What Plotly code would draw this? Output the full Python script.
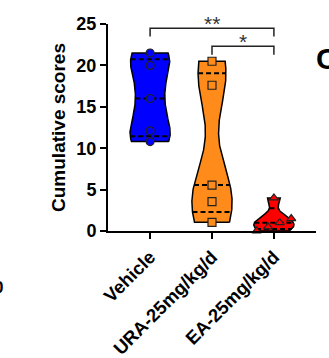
import numpy as np
import plotly.graph_objects as go

# ---------------- data ----------------
categories = ["Vehicle", "URA-25mg/kg/d", "EA-25mg/kg/d"]
vehicle = [21.5, 20.0, 16.0, 12.1, 10.8]
ura = [20.5, 17.6, 5.55, 3.55, 1.05]
ea = [0.0, 0.5, 1.0, 1.5, 4.0]
y_ticks = [0, 5, 10, 15, 20, 25]
comparisons = [(0, 2, "**"), (1, 2, "*")]

# ---------------- style ----------------
series = [vehicle, ura, ea]
fills = ["#0000FF", "#FF8C1A", "#FF0000"]
symbols = ["circle", "square", "triangle-up"]
bandwidths = [2.2, 4.0, 0.8]
VIOLIN_W = 0.65
FONT = "Arial, Liberation Sans, sans-serif"
bracket_tops = [24.5, 22.3]
bracket_drop = 1.0


def kde(vals, bw, y):
    v = np.asarray(vals, float)[:, None]
    z = (np.asarray(y, float)[None, :] - v) / bw
    return np.exp(-0.5 * z ** 2).sum(0) / (len(vals) * bw * np.sqrt(2 * np.pi))


def spread(vals, gap=0.6, half=0.28):
    vals = np.asarray(vals, float)
    order = np.argsort(vals, kind="stable")
    clusters, cur = [], [order[0]]
    for prev, idx in zip(order[:-1], order[1:]):
        if vals[idx] - vals[prev] < gap:
            cur.append(idx)
        else:
            clusters.append(cur)
            cur = [idx]
    clusters.append(cur)
    off = np.zeros(len(vals))
    for c in clusters:
        if len(c) > 1:
            off[c] = np.linspace(-half, half, len(c))
    return off


fig = go.Figure()

for i, (vals, col, sym, bw) in enumerate(zip(series, fills, symbols, bandwidths)):
    # violin body: kernel density over the data span (truncated at min/max)
    grid = np.linspace(min(vals), max(vals), 300)
    dens = kde(vals, bw, grid)
    dmax = dens.max()
    hw = VIOLIN_W / 2 * dens / dmax
    xs = np.concatenate([i + hw, (i - hw)[::-1], [i + hw[0]]])
    ys = np.concatenate([grid, grid[::-1], [grid[0]]])
    fig.add_trace(go.Scatter(
        x=xs, y=ys, mode="lines", fill="toself", fillcolor=col,
        line=dict(color="black", width=1.5),
        showlegend=False, hoverinfo="skip", cliponaxis=False,
    ))
    # quartile dashed lines
    qs = np.percentile(vals, [25, 50, 75], method="weibull")
    for q in qs:
        h = VIOLIN_W / 2 * kde(vals, bw, [q])[0] / dmax
        fig.add_trace(go.Scatter(
            x=[i - h, i + h], y=[q, q], mode="lines",
            line=dict(color="black", width=2, dash="5px,3px"),
            showlegend=False, hoverinfo="skip", cliponaxis=False,
        ))
    # points
    off = spread(vals)
    fig.add_trace(go.Scatter(
        x=i + off, y=vals, mode="markers",
        marker=dict(symbol=sym, size=8, color=col,
                    line=dict(color="#222222", width=1.2)),
        showlegend=False, hoverinfo="skip", cliponaxis=False,
    ))

# significance brackets
for (a, b, label), top in zip(comparisons, bracket_tops):
    fig.add_trace(go.Scatter(
        x=[a, a, b, b], y=[top - bracket_drop, top, top, top - bracket_drop],
        mode="lines", line=dict(color="#222222", width=1.5),
        showlegend=False, hoverinfo="skip", cliponaxis=False,
    ))
    fig.add_annotation(x=(a + b) / 2, y=top, text=label, showarrow=False,
                       yanchor="bottom", yshift=-9,
                       font=dict(family=FONT, size=21, color="#333333"))

# panel letter cut off at the right edge and neighbour fragment on the left
fig.add_annotation(xref="paper", yref="paper", x=0.99, y=0.831, text="C",
                   showarrow=False, xanchor="left", yanchor="middle",
                   font=dict(family=FONT, size=30, color="black", weight="bold"))
fig.add_annotation(xref="paper", yref="paper", x=-0.495, y=-0.275, text="0",
                   showarrow=False, xanchor="right", yanchor="middle",
                   font=dict(family=FONT, size=17, color="black", weight="bold"))

fig.update_layout(
    width=329, height=358,
    margin=dict(l=108, r=13, t=24, b=127, autoexpand=False),
    plot_bgcolor="white", paper_bgcolor="white",
    xaxis=dict(
        range=[-0.68, 2.68], tickmode="array", tickvals=[0, 1, 2],
        ticktext=categories, tickangle=-45, automargin=False,
        ticks="outside", ticklen=6, tickwidth=2, tickcolor="black",
        showline=True, linewidth=2, linecolor="black",
        showgrid=False, zeroline=False,
        tickfont=dict(family=FONT, size=18.5, color="black", weight="bold"),
    ),
    yaxis=dict(
        range=[0, 25], tickmode="array", tickvals=y_ticks, automargin=False,
        ticks="outside", ticklen=6, tickwidth=2, tickcolor="black",
        showline=True, linewidth=2, linecolor="black",
        showgrid=False, zeroline=False,
        tickfont=dict(family=FONT, size=18, color="black", weight="bold"),
        title=dict(text="Cumulative scores", standoff=6,
                   font=dict(family=FONT, size=19, color="black", weight="bold")),
    ),
)

fig.write_html("out.html")
